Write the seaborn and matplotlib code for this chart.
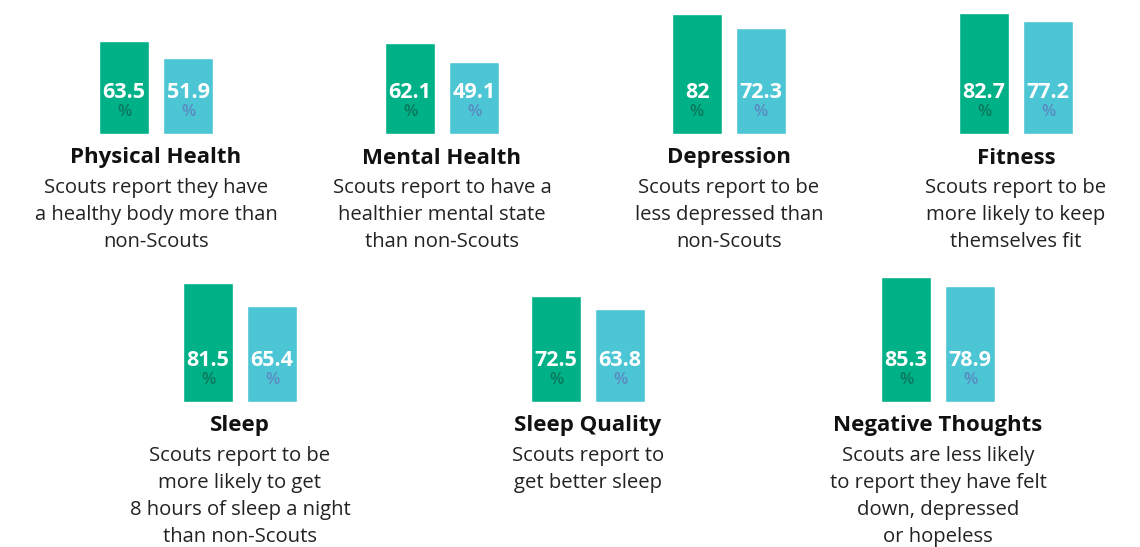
import pandas as pd
import matplotlib.pyplot as plt
import seaborn as sns

# Data
categories = ['Physical Health', 'Mental Health', 'Depression', 'Fitness',
              'Sleep', 'Sleep Quality', 'Negative Thoughts']
scouts = [63.5, 62.1, 82.0, 82.7, 81.5, 72.5, 85.3]
non_scouts = [51.9, 49.1, 72.3, 77.2, 65.4, 63.8, 78.9]
value_labels_scouts = ['63.5', '62.1', '82', '82.7', '81.5', '72.5', '85.3']
value_labels_non = ['51.9', '49.1', '72.3', '77.2', '65.4', '63.8', '78.9']
descriptions = [
    'Scouts report they have\na healthy body more than\nnon-Scouts',
    'Scouts report to have a\nhealthier mental state\nthan non-Scouts',
    'Scouts report to be\nless depressed than\nnon-Scouts',
    'Scouts report to be\nmore likely to keep\nthemselves fit',
    'Scouts report to be\nmore likely to get\n8 hours of sleep a night\nthan non-Scouts',
    'Scouts report to\nget better sleep',
    'Scouts are less likely\nto report they have felt\ndown, depressed\nor hopeless',
]
groups = ['Scouts', 'Non-Scouts']

# Layout (pixels)
W, H = 1140, 547
centers = [156, 442, 729, 1016, 240, 588, 938]
baselines = [134, 134, 134, 134, 402, 402, 402]
px_per_unit = 1.465
unit_w = 64

green = '#00b086'
blue = '#4cc5d4'
pct_colors = ['#0b7a5e', '#5a8cc2']

sns.set_theme(style='white')
plt.rcParams['font.family'] = ['Open Sans', 'DejaVu Sans']
fig = plt.figure(figsize=(W / 100, H / 100), dpi=100)

ymax = 90
for i, cat in enumerate(categories):
    cx, base = centers[i], baselines[i]
    left = cx - 2 * unit_w
    ax = fig.add_axes([left / W, (H - base) / H, 4 * unit_w / W, ymax * px_per_unit / H])
    df = pd.DataFrame({'group': groups, 'value': [scouts[i], non_scouts[i]]})
    sns.barplot(data=df, x='group', y='value', hue='group', palette=[green, blue],
                width=50 / unit_w, saturation=1, legend=False, ax=ax)
    ax.set_xlim(-1.5, 2.5)
    ax.set_ylim(0, ymax)
    ax.axis('off')
    for j, lab in enumerate([value_labels_scouts[i], value_labels_non[i]]):
        ax.text(j, 42 / px_per_unit, lab, ha='center', va='center', color='white',
                fontsize=15.5, fontweight='bold')
        ax.text(j, 22 / px_per_unit, '%', ha='center', va='center',
                color=pct_colors[j], fontsize=12, fontweight='semibold')
    fig.text(cx / W, 1 - (base + 24) / H, cat, ha='center', va='center',
             fontsize=16, fontweight='bold', color='#111111')
    fig.text(cx / W, 1 - (base + 44) / H, descriptions[i], ha='center', va='top',
             fontsize=14.6, color='#222222', linespacing=1.47)

fig.savefig('out.png', dpi=100)
